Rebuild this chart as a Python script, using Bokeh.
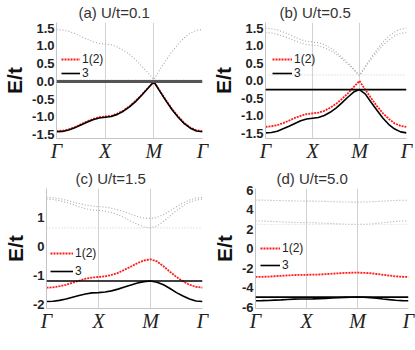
from bokeh.plotting import figure
from bokeh.models import (Range1d, FixedTicker, Span, Legend, LegendItem,
                          PrintfTickFormatter)
from bokeh.layouts import column, row
from bokeh.embed import file_html
from bokeh.resources import INLINE

# path positions (Gamma=0, X=1, M=2, Gamma=3)
k = [0.0, 0.125, 0.25, 0.375, 0.5, 0.625, 0.75, 0.875, 1.0, 1.125, 1.25, 1.375, 1.5,
     1.625, 1.75, 1.875, 2.0, 2.125, 2.25, 2.375, 2.5, 2.625, 2.75, 2.875, 3.0]
k_ticks = [0, 1, 2, 3]
k_labels = ["Γ", "X", "M", "Γ"]
legend_labels = ["1(2)", "3"]

# (a) U/t = 0.1
a_up = [1.46, 1.45, 1.41, 1.35, 1.27, 1.19, 1.12, 1.07, 1.05, 1.03, 0.97, 0.88, 0.76,
        0.61, 0.43, 0.25, 0.05, 0.33, 0.59, 0.84, 1.05, 1.23, 1.36, 1.44, 1.46]
a_red = [-1.40, -1.39, -1.35, -1.29, -1.21, -1.13, -1.06, -1.01, -0.99, -0.97, -0.91, -0.82, -0.70,
         -0.55, -0.38, -0.19, 0.00, -0.27, -0.53, -0.78, -0.99, -1.17, -1.30, -1.38, -1.40]
a_blk = [-1.42, -1.41, -1.37, -1.31, -1.23, -1.15, -1.08, -1.03, -1.01, -0.99, -0.93, -0.84, -0.72,
         -0.57, -0.39, -0.20, -0.01, -0.28, -0.55, -0.80, -1.01, -1.19, -1.32, -1.40, -1.42]
a_mu = 0.0
a_top = 0.05

# (b) U/t = 0.5
b_up1 = [1.51, 1.49, 1.46, 1.40, 1.33, 1.25, 1.18, 1.13, 1.11, 1.09, 1.04, 0.95, 0.83,
         0.68, 0.52, 0.34, 0.15, 0.42, 0.67, 0.90, 1.11, 1.28, 1.40, 1.48, 1.51]
b_up2 = [1.38, 1.37, 1.33, 1.28, 1.22, 1.15, 1.08, 1.04, 1.02, 1.00, 0.95, 0.87, 0.77,
         0.63, 0.48, 0.32, 0.15, 0.39, 0.62, 0.83, 1.02, 1.17, 1.29, 1.36, 1.38]
b_red = [-1.32, -1.30, -1.27, -1.21, -1.14, -1.06, -1.00, -0.95, -0.93, -0.91, -0.86, -0.77, -0.66,
         -0.52, -0.36, -0.18, 0.00, -0.26, -0.50, -0.73, -0.93, -1.09, -1.22, -1.29, -1.32]
b_blk = [-1.49, -1.48, -1.44, -1.37, -1.30, -1.22, -1.14, -1.09, -1.07, -1.05, -0.99, -0.90, -0.78,
         -0.63, -0.47, -0.32, -0.25, -0.38, -0.62, -0.85, -1.07, -1.25, -1.38, -1.46, -1.49]
b_mu = -0.25
b_top = 0.17

# (c) U/t = 1.5
c_up1 = [1.69, 1.68, 1.65, 1.60, 1.54, 1.48, 1.43, 1.39, 1.37, 1.36, 1.32, 1.26, 1.19,
         1.11, 1.03, 0.98, 0.96, 1.00, 1.10, 1.23, 1.37, 1.50, 1.60, 1.67, 1.69]
c_up2 = [1.63, 1.62, 1.58, 1.52, 1.45, 1.37, 1.30, 1.26, 1.24, 1.22, 1.17, 1.09, 0.99,
         0.87, 0.76, 0.67, 0.64, 0.70, 0.86, 1.05, 1.24, 1.40, 1.53, 1.60, 1.63]
c_red = [-1.43, -1.42, -1.38, -1.33, -1.26, -1.19, -1.12, -1.08, -1.06, -1.04, -0.99, -0.92, -0.81,
         -0.70, -0.58, -0.49, -0.45, -0.52, -0.69, -0.88, -1.06, -1.21, -1.33, -1.40, -1.43]
c_blk = [-1.91, -1.90, -1.87, -1.82, -1.76, -1.70, -1.65, -1.61, -1.60, -1.58, -1.54, -1.48, -1.41,
         -1.34, -1.27, -1.22, -1.20, -1.24, -1.33, -1.46, -1.60, -1.72, -1.82, -1.89, -1.91]
c_mu = -1.20
c_top = 0.64

# (d) U/t = 5.0
d_up1 = [5.00, 5.00, 4.99, 4.97, 4.95, 4.93, 4.92, 4.91, 4.90, 4.90, 4.89, 4.87, 4.85,
         4.83, 4.81, 4.80, 4.80, 4.81, 4.83, 4.86, 4.90, 4.94, 4.97, 4.99, 5.00]
d_up2 = [2.86, 2.85, 2.83, 2.80, 2.77, 2.74, 2.71, 2.69, 2.68, 2.67, 2.65, 2.62, 2.59,
         2.56, 2.53, 2.51, 2.50, 2.51, 2.55, 2.61, 2.68, 2.75, 2.81, 2.85, 2.86]
d_red = [-2.90, -2.89, -2.87, -2.83, -2.79, -2.75, -2.71, -2.69, -2.68, -2.67, -2.65, -2.61, -2.57,
         -2.53, -2.49, -2.47, -2.46, -2.48, -2.52, -2.60, -2.68, -2.76, -2.84, -2.88, -2.90]
d_blk = [-5.35, -5.34, -5.32, -5.29, -5.26, -5.22, -5.19, -5.17, -5.17, -5.16, -5.14, -5.11, -5.07,
         -5.04, -5.01, -4.99, -4.98, -4.99, -5.03, -5.09, -5.17, -5.24, -5.30, -5.34, -5.35]
d_mu = -4.98
d_top = 2.50

SANS = "Liberation Sans"
SERIF = "Liberation Serif"
TXT = "#222222"
AXC = "#c4c4c4"


def panel(title, ups, red, blk, mu, top, mu_style, yr, yticks, fmt, fw, fh,
          bl, br, bt, bb, leg_loc, leg_spacing, glyph_w, title_off):
    p = figure(frame_width=fw, frame_height=fh, output_backend="svg", toolbar_location=None,
               x_range=Range1d(0, 3), y_range=Range1d(*yr),
               min_border_left=bl, min_border_right=br, min_border_top=bt,
               min_border_bottom=bb, title=title)
    p.outline_line_color = None
    p.background_fill_color = "white"
    p.border_fill_color = "white"
    p.title.align = "left"
    p.title.offset = title_off
    p.title.standoff = 3
    p.title.text_font = SANS
    p.title.text_font_size = "15px"
    p.title.text_font_style = "normal"
    p.title.text_color = "#333333"

    xa = p.xaxis[0]
    xa.ticker = FixedTicker(ticks=k_ticks)
    xa.major_label_overrides = {t: s for t, s in zip(k_ticks, k_labels)}
    xa.major_label_text_font = SERIF
    xa.major_label_text_font_style = "italic"
    xa.major_label_text_font_size = "20px"
    xa.major_label_text_color = TXT
    xa.major_label_standoff = 1
    xa.axis_line_color = AXC
    xa.major_tick_line_color = None
    xa.minor_tick_line_color = None
    xa.major_tick_out = 0
    xa.major_tick_in = 0
    xa.minor_tick_out = 0

    ya = p.yaxis[0]
    ya.ticker = FixedTicker(ticks=yticks)
    ya.formatter = PrintfTickFormatter(format=fmt)
    ya.major_label_text_font = SANS
    ya.major_label_text_font_size = "13px"
    ya.major_label_text_font_style = "bold"
    ya.major_label_text_color = TXT
    ya.major_label_standoff = 2
    ya.axis_line_color = AXC
    ya.major_tick_line_color = None
    ya.minor_tick_line_color = None
    ya.major_tick_out = 0
    ya.major_tick_in = 0
    ya.minor_tick_out = 0
    ya.axis_label = "E/t"
    ya.axis_label_text_font = SANS
    ya.axis_label_text_font_size = "21px"
    ya.axis_label_text_font_style = "bold"
    ya.axis_label_text_color = "#111111"
    ya.axis_label_standoff = 3

    p.ygrid.visible = False
    p.xgrid.ticker = FixedTicker(ticks=k_ticks)
    p.xgrid.grid_line_color = "#d2d2d2"
    p.xgrid.grid_line_width = 1

    for u in ups:
        p.line(k, u, line_color="#a8a8a8", line_width=1.1, line_dash="1 2")
    p.add_layout(Span(location=top, dimension="width", line_color="#d6d6d6",
                      line_width=1.1, line_dash="1 2"))
    p.add_layout(Span(location=mu, dimension="width", line_color=mu_style[0],
                      line_width=mu_style[1]))
    r_red = p.line(k, red, line_color="#ff1a1a", line_width=1.8, line_dash="2 1")
    r_blk = p.line(k, blk, line_color="black", line_width=1.6)

    leg = Legend(items=[LegendItem(label=legend_labels[0], renderers=[r_red]),
                        LegendItem(label=legend_labels[1], renderers=[r_blk])],
                 location=leg_loc, orientation="vertical")
    leg.background_fill_alpha = 0
    leg.border_line_color = None
    leg.padding = 0
    leg.margin = 0
    leg.spacing = leg_spacing
    leg.glyph_width = glyph_w
    leg.glyph_height = 12
    leg.label_height = 12
    leg.label_standoff = 2
    leg.label_text_font = SANS
    leg.label_text_font_size = "12px"
    leg.label_text_color = TXT
    leg.label_text_baseline = "alphabetic"
    p.add_layout(leg)
    return p


pa = panel("(a) U/t=0.1", [a_up], a_red, a_blk, a_mu, a_top, ("#555555", 3),
           (-1.61, 1.66), [-1.5, -1.0, -0.5, 0.0, 0.5, 1.0, 1.5], "%.1f",
           146, 116, 52, 7, 20, 28, (5, 58), 0, 19, 22)
pb = panel("(b) U/t=0.5", [b_up1, b_up2], b_red, b_blk, b_mu, b_top, ("black", 1.6),
           (-1.65, 1.67), [-1.5, -1.0, -0.5, 0.0, 0.5, 1.0, 1.5], "%.1f",
           141, 116, 52, 7, 20, 28, (7, 58), 0, 20, 14)
pc = panel("(c) U/t=1.5", [c_up1, c_up2], c_red, c_blk, c_mu, c_top, ("black", 1.6),
           (-2.15, 2.0), [-2, -1, 0, 1], "%d",
           156, 120, 41, 7, 20, 28, (4, 30), 4, 23, 29)
pd = panel("(d) U/t=5.0", [d_up1, d_up2], d_red, d_blk, d_mu, d_top, ("black", 1.6),
           (-6.15, 6.2), [-6, -4, -2, 0, 2, 4, 6], "%d",
           153, 120, 41, 7, 20, 28, (5, 36), 3, 20, 21)

layout = column(row(pa, pb), row(pc, pd))
open("out.html", "w").write(file_html(layout, INLINE))
